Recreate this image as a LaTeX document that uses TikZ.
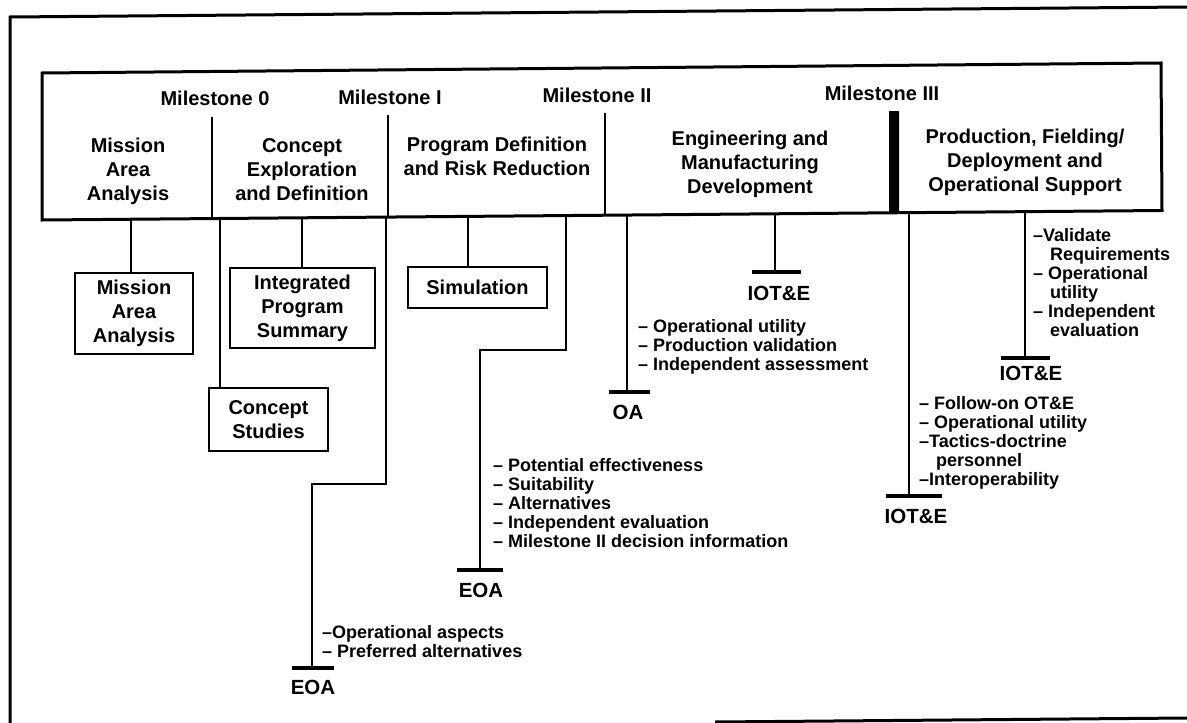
\documentclass[tikz,border=0pt]{standalone}
\usepackage{fontspec}
\setmainfont{Liberation Sans}
\begin{document}
\begin{tikzpicture}[x=1pt,y=-1pt,
  lab/.style={align=center,inner sep=0pt,font=\bfseries\fontsize{20}{24}\selectfont},
  boxn/.style={draw,line width=2.8pt,align=center,inner sep=0pt,font=\bfseries\fontsize{20}{24}\selectfont},
  lst/.style={anchor=north west,align=left,inner sep=0pt,font=\bfseries\fontsize{18}{19}\selectfont},
  conn/.style={line width=2.8pt},
  barl/.style={line width=3.2pt},
  divl/.style={line width=2.4pt},
  tlab/.style={inner sep=0pt,font=\bfseries\fontsize{20.5}{24}\selectfont},
  frm/.style={line width=3pt}
]
\useasboundingbox (0,0) rectangle (1187,723);
\fill[white] (0,0) rectangle (1187,723);
% outer frame (scan is slightly tilted)
\draw[frm] (10,723) -- (10,17) -- (1187,7);
\draw[frm] (715,722) -- (1187,718);
% main band
\coordinate (bl) at (42,220);
\coordinate (tl) at (42,73);
\coordinate (tr) at (1161,63);
\coordinate (br) at (1162,210.5);
\draw[frm,line join=miter] (bl) -- (tl) -- (tr) -- (br) -- cycle;
\draw[divl] (212,117) -- (212,218.5);
\draw[divl] (388,115) -- (388,217);
\draw[divl] (605,113) -- (605,215);
\fill (889,111) -- (899,111) -- (899,212) -- (889,212.2) -- cycle;
% milestones
\node[lab] (m0) at (215,98) {Milestone 0};
\node[lab] (m1) at (390,97) {Milestone I};
\node[lab] (m2) at (597,95) {Milestone II};
\node[lab] (m3) at (882,93) {Milestone III};
% phases
\node[lab] (maa) at (128,171) {Mission\\Area\\Analysis};
\node[lab] (ced) at (302,170) {Concept\\Exploration\\and Definition};
\node[lab] (pdrr) at (497,156) {Program Definition\\and Risk Reduction};
\node[lab] (emd) at (750,164) {Engineering and\\Manufacturing\\Development};
\node[lab] (pfd) at (1025,162) {Production, Fielding/\\Deployment and\\Operational Support};
% boxes
\node[boxn,minimum width=118pt,minimum height=81pt] (bmaa) at (134,313.5) {Mission\\Area\\Analysis};
\node[boxn,minimum width=145pt,minimum height=80pt] (bips) at (302.5,308) {Integrated\\Program\\Summary};
\node[boxn,minimum width=119pt,minimum height=63pt] (bcs) at (268.5,419.5) {Concept\\Studies};
\node[boxn,minimum width=139pt,minimum height=41pt] (bsim) at (477.5,287.5) {Simulation};
% tick coordinates on the band's lower edge
\coordinate (t1) at (131,219.2);
\coordinate (t2) at (220,218.5);
\coordinate (t3) at (302,217.7);
\coordinate (t4) at (386,217);
\coordinate (t5) at (468,216.3);
\coordinate (t6) at (566,215.4);
\coordinate (t7) at (627,214.9);
\coordinate (t8) at (775,213.6);
\coordinate (t9) at (909,212.5);
\coordinate (t10) at (1025,211.4);
\draw[conn] (t1) -- (t1 |- bmaa.north);
\draw[conn] (t2) -- (t2 |- bcs.north);
\draw[conn] (t3) -- (t3 |- bips.north);
\draw[conn] (t5) -- (t5 |- bsim.north);
% EOA 1
\coordinate (j1) at (386,484);
\coordinate (e1) at (312,668);
\draw[conn] (t4) -- (j1) -| (e1);
\draw[barl] (e1) ++(-20,0) -- ++(42,0);
\node[tlab] (eoa1) at (313,687) {EOA};
% EOA 2
\coordinate (j2) at (566,350);
\coordinate (e2) at (480,570);
\draw[conn] (t6) -- (j2) -| (e2);
\draw[barl] (e2) ++(-23,0) -- ++(46,0);
\node[tlab] (eoa2) at (481,590) {EOA};
% OA
\coordinate (e3) at (627,392);
\draw[conn] (t7) -- (e3);
\draw[barl] (e3) ++(-18,0) -- ++(41,0);
\node[tlab] (oa) at (628,412) {OA};
% IOT&E 1
\coordinate (e4) at (775,272);
\draw[conn] (t8) -- (e4);
\draw[barl] (e4) ++(-23,0) -- ++(49,0);
\node[tlab] (iot1) at (779,293) {IOT\&E};
% IOT&E 2
\coordinate (e5) at (909,496);
\draw[conn] (t9) -- (e5);
\draw[barl] (e5) ++(-23,0) -- ++(56,0);
\node[tlab] (iot2) at (916,516) {IOT\&E};
% IOT&E 3
\coordinate (e6) at (1025,358);
\draw[conn] (t10) -- (e6);
\draw[barl] (e6) ++(-24,0) -- ++(49,0);
\node[tlab] (iot3) at (1031,373) {IOT\&E};
% lists
\node[lst] (l1) at (322,625) {--Operational aspects\\-- Preferred alternatives};
\node[lst] (l2) at (493,458) {-- Potential effectiveness\\-- Suitability\\-- Alternatives\\-- Independent evaluation\\-- Milestone II decision information};
\node[lst] (l3) at (638,319) {-- Operational utility\\-- Production validation\\-- Independent assessment};
\node[lst] (l4) at (919,396) {-- Follow-on OT\&E\\-- Operational utility\\--Tactics-doctrine\\\hspace*{17pt}personnel\\--Interoperability};
\node[lst] (l5) at (1033,228) {--Validate\\\hspace*{17pt}Requirements\\-- Operational\\\hspace*{17pt}utility\\-- Independent\\\hspace*{17pt}evaluation};
\end{tikzpicture}
\end{document}
